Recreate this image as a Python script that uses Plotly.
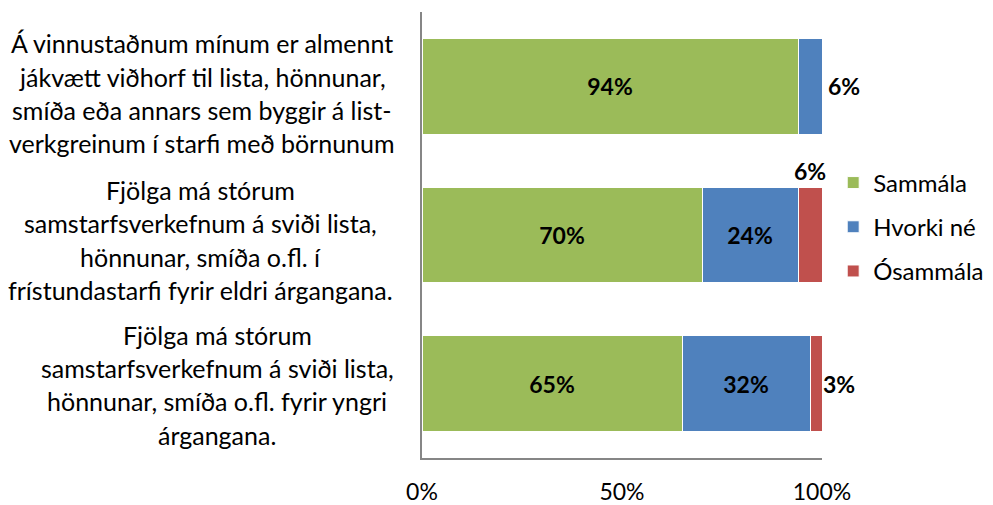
import plotly.graph_objects as go

categories = [
    "Á vinnustaðnum mínum er almennt<br>jákvætt viðhorf til lista, hönnunar,<br>smíða eða annars sem byggir á list-<br>verkgreinum í starfi með börnunum",
    "Fjölga má stórum<br>samstarfsverkefnum á sviði lista,<br>hönnunar, smíða o.fl. í<br>frístundastarfi fyrir eldri árgangana.",
    "Fjölga má stórum<br>samstarfsverkefnum á sviði lista,<br>hönnunar, smíða o.fl. fyrir yngri<br>árgangana.",
]
series_names = ["Sammála", "Hvorki né", "Ósammála"]
sammala = [94, 70, 65]
hvorki = [6, 24, 32]
osammala = [0, 6, 3]
tick_vals = [0, 50, 100]
tick_text = ["0%", "50%", "100%"]

colors = ["#9BBB59", "#4F81BD", "#C0504D"]
FONT = "Lato"
LABEL_SIZE = 25
LEGEND_SIZE = 24
TICK_SIZE = 23
DATA_SIZE = 23
cat_ids = ["c0", "c1", "c2"]

# the page body has an 8px default margin: size the figure to compensate
PAGE_OFF = 8
PLOT_LEFT = 422

fig = go.Figure()
values = [sammala, hvorki, osammala]
for name, vals, col in zip(series_names, values, colors):
    texts = [f"<b>{v}%</b>" if v >= 15 else "" for v in vals]
    fig.add_trace(go.Bar(
        y=cat_ids, x=vals, name=name, orientation="h",
        marker=dict(color=col, line=dict(color="white", width=1)),
        text=texts, textposition="inside", insidetextanchor="middle",
        textfont=dict(family=FONT, size=DATA_SIZE, color="black"),
        hoverinfo="skip", legendgroup=name,
    ))

annotations = []
# category labels, one line per annotation to mimic the spacing
centers = [202, 200, 217]
offsets = [-7, -5, -1]
line_gap = 33.3
for cid, label, cx, off in zip(cat_ids, categories, centers, offsets):
    lines = label.split("<br>")
    n = len(lines)
    for i, ln in enumerate(lines):
        annotations.append(dict(
            xref="paper", x=0, yref="y", y=cid, text=ln, showarrow=False,
            xanchor="center", yanchor="middle", xshift=cx - PLOT_LEFT,
            yshift=((n - 1) / 2 - i) * line_gap + off,
            font=dict(family=FONT, size=LABEL_SIZE, color="black"),
        ))

# small value labels placed outside the bars
for cid, s, h, o in zip(cat_ids, sammala, hvorki, osammala):
    total = s + h + o
    if h < 15:
        annotations.append(dict(x=total, y=cid, xref="x", yref="y", text=f"<b>{h}%</b>",
                                showarrow=False, xanchor="left", xshift=4,
                                font=dict(family=FONT, size=DATA_SIZE, color="black")))
    if 0 < o < 5:
        annotations.append(dict(x=total, y=cid, xref="x", yref="y", text=f"<b>{o}%</b>",
                                showarrow=False, xanchor="left", xshift=-1,
                                font=dict(family=FONT, size=DATA_SIZE, color="black")))
    elif o >= 5:
        annotations.append(dict(x=s + h + o / 2, y=cid, xref="x", yref="y", text=f"<b>{o}%</b>",
                                showarrow=False, xanchor="center", yshift=64,
                                font=dict(family=FONT, size=DATA_SIZE, color="black")))

fig.update_layout(
    barmode="stack", bargap=0.355,
    width=993 - PAGE_OFF, height=505 - PAGE_OFF,
    margin=dict(l=PLOT_LEFT - PAGE_OFF, r=171, t=12 - PAGE_OFF, b=47, autoexpand=False),
    paper_bgcolor="white", plot_bgcolor="white",
    font=dict(family=FONT, size=LABEL_SIZE, color="black"),
    showlegend=True,
    legend=dict(x=1.028, y=0.518, xanchor="left", yanchor="middle",
                traceorder="grouped", tracegroupgap=10,
                font=dict(family=FONT, size=LEGEND_SIZE, color="black"),
                itemwidth=30),
    annotations=annotations,
    uniformtext=dict(minsize=DATA_SIZE, mode="show"),
)
fig.update_xaxes(range=[0, 100], tickvals=tick_vals, ticktext=tick_text,
                 showgrid=False, zeroline=False, showline=True,
                 linecolor="#868686", linewidth=2, ticks="",
                 tickfont=dict(family=FONT, size=TICK_SIZE, color="black"),
                 ticklabelstandoff=12, automargin=False, fixedrange=True)
fig.update_yaxes(categoryorder="array", categoryarray=cat_ids, autorange="reversed",
                 showticklabels=False, showgrid=False, zeroline=False, automargin=False,
                 showline=True, linecolor="#868686", linewidth=2, ticks="")

fig.write_html("out.html")
